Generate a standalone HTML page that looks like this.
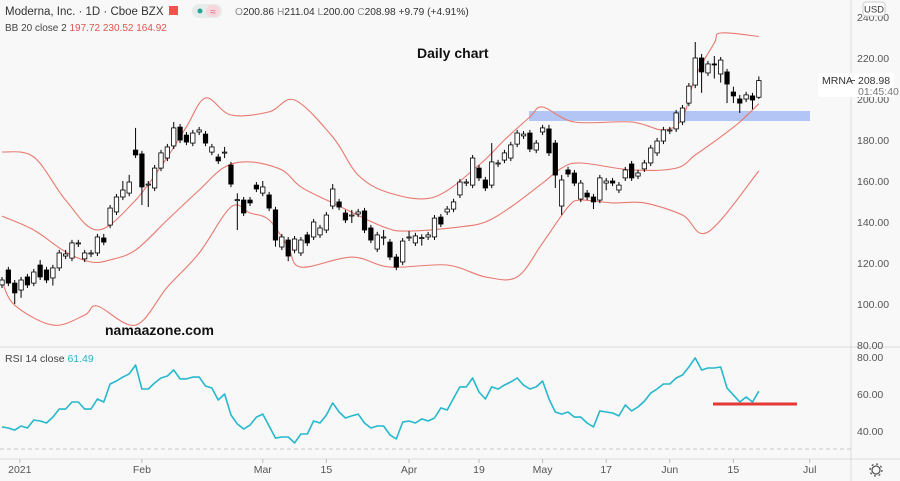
<!DOCTYPE html>
<html><head><meta charset="utf-8"><style>
html,body{margin:0;padding:0;background:#f8f8f8;}
svg{display:block;font-family:"Liberation Sans",sans-serif;}
</style></head><body>
<svg id="chart" width="900" height="481" viewBox="0 0 900 481" xmlns="http://www.w3.org/2000/svg">
<rect x="0" y="0" width="900" height="481" fill="#f8f8f8"/>
<line x1="0" y1="347" x2="900" y2="347" stroke="#dcdcdc"/>
<line x1="851" y1="0" x2="851" y2="481" stroke="#dcdcdc"/>
<line x1="0" y1="459" x2="900" y2="459" stroke="#dcdcdc"/>
<line x1="0" y1="449" x2="851" y2="449" stroke="#c8c8c8" stroke-dasharray="4,3"/>
<rect x="529" y="111" width="281" height="10" fill="#b3c5f5"/>
<g id="bands"></g>
<g id="candles"></g>
<g id="rsi"></g>
<rect x="713" y="402.5" width="84" height="3" fill="#e53935"/>
<g id="yaxis"></g>
<g id="xaxis"></g>
<text x="5" y="15" font-size="11.5" fill="#333">Moderna, Inc. · 1D · Cboe BZX</text>
<rect x="169" y="6" width="9" height="9" fill="#f0524f"/>
<rect x="192" y="4" width="30" height="14" rx="7" fill="#e6ecea"/>
<circle cx="200" cy="11" r="2.5" fill="#26a69a"/>
<rect x="206" y="5" width="14" height="12" rx="6" fill="#f7d6de"/>
<text x="213" y="15" font-size="10" fill="#e0607e" text-anchor="middle">≈</text>
<text x="235" y="15" font-size="10.2" fill="#333"><tspan fill="#888">O</tspan>200.86 <tspan fill="#888">H</tspan>211.04 <tspan fill="#888">L</tspan>200.00 <tspan fill="#888">C</tspan>208.98 +9.79 (+4.91%)</text>
<text x="5" y="31" font-size="10" fill="#444">BB 20 close 2 <tspan fill="#e0534f">197.72</tspan> <tspan fill="#e0534f">230.52</tspan> <tspan fill="#e0534f">164.92</tspan></text>
<text x="417" y="58" font-size="14" font-weight="bold" fill="#111">Daily chart</text>
<text x="105" y="335" font-size="14" font-weight="bold" fill="#111">namaazone.com</text>
<text x="5" y="362" font-size="10.5" fill="#444">RSI 14 close <tspan fill="#26b4c9">61.49</tspan></text>
<rect x="863" y="2" width="22" height="14" rx="3" fill="#fff" stroke="#ccc"/>
<text x="874" y="12.5" font-size="9.5" fill="#333" text-anchor="middle">USD</text>
<rect x="818" y="73" width="76" height="24" fill="#fff"/>
<text x="822" y="84" font-size="10.5" fill="#333">MRNA</text>
<line x1="850" y1="80.5" x2="855" y2="80.5" stroke="#555"/>
<text x="858" y="84" font-size="10.5" fill="#333">208.98</text>
<text x="858" y="95" font-size="10.5" fill="#777">01:45:40</text>
<g><circle cx="876" cy="470" r="4" fill="none" stroke="#555" stroke-width="1.3"/><circle cx="876" cy="470" r="6" fill="none" stroke="#555" stroke-width="1.3" stroke-dasharray="2,2.7"/></g>
</svg>
<script>
const opens=[109.3,116.6,110.2,106.8,113.2,110.2,119.0,116.6,112.7,117.6,123.4,122.4,129.3,122.0,124.4,124.9,132.2,138.5,144.9,152.2,154.1,175.1,173.2,158.0,156.6,166.3,171.2,177.1,186.3,182.4,178.5,183.9,182.9,174.1,171.7,173.7,167.8,150.7,150.7,150.7,158.0,154.1,153.2,145.9,127.8,131.2,126.3,124.9,133.7,132.7,133.7,136.1,147.8,149.8,144.4,142.9,143.9,145.4,137.1,126.8,132.2,130.2,122.9,120.5,132.2,129.8,132.2,132.7,132.7,142.4,144.9,146.3,153.2,159.0,158.0,166.3,160.5,158.0,168.3,170.2,171.2,178.0,182.0,183.4,175.1,183.9,185.4,178.5,147.8,165.4,163.9,151.2,154.1,152.2,150.7,159.0,160.0,155.6,161.5,168.3,162.4,165.9,168.8,173.7,179.5,184.4,185.4,188.8,198.0,206.8,220.0,212.7,217.1,212.2,213.2,203.4,200.0,200.0,201.5,200.86];
const closes=[111.7,110.2,105.4,111.7,109.3,115.6,113.2,111.7,117.6,124.9,124.4,129.8,129.8,124.9,124.9,132.7,130.2,146.8,152.2,155.6,159.5,172.7,157.1,158.5,166.3,173.7,176.6,185.9,180.0,179.0,183.4,184.9,178.5,176.6,169.8,174.1,158.5,150.9,144.4,149.3,156.1,157.1,146.8,131.2,132.7,123.4,131.7,131.2,129.8,140.0,137.1,143.4,156.1,147.3,141.0,143.4,144.9,136.1,131.2,133.7,132.7,122.9,118.0,130.7,132.7,133.2,132.4,133.7,141.9,139.0,146.3,149.8,159.5,159.5,171.2,161.5,156.6,169.3,168.8,173.7,177.6,183.4,182.9,175.6,178.5,185.9,173.7,162.9,160.5,163.4,159.0,159.0,152.2,149.8,161.5,160.0,159.0,158.0,165.4,161.5,163.9,168.8,176.1,179.5,184.9,184.9,193.2,195.6,206.3,220.0,213.2,217.1,216.8,219.0,207.3,201.5,198.0,202.0,199.5,208.98];
const highs=[113.2,118.1,111.7,113.2,114.7,117.1,121.5,118.1,119.1,126.4,126.4,131.3,131.3,126.4,126.4,134.2,134.2,148.3,153.7,160.0,163.0,185.9,174.7,160.0,167.8,175.2,178.1,188.8,187.8,183.9,184.9,186.4,184.4,178.1,173.2,176.6,169.3,154.0,152.2,152.2,159.5,160.0,154.7,147.4,134.2,132.7,133.2,132.7,135.2,141.5,138.6,144.9,158.5,151.3,145.9,145.9,146.4,146.9,138.6,135.2,136.1,131.7,124.4,132.2,135.6,134.7,134.0,135.2,143.4,143.9,147.8,151.3,161.0,161.0,172.7,167.8,162.0,178.5,170.3,175.2,179.1,184.9,184.4,184.9,180.0,187.4,187.4,180.0,162.9,166.9,165.4,160.5,155.6,153.7,163.0,161.5,161.5,159.5,166.9,169.8,165.4,170.3,177.6,181.0,186.4,186.4,194.7,197.1,207.8,227.8,222.0,218.6,221.0,220.5,214.7,206.0,202.0,203.5,203.0,211.04];
const lows=[107.8,108.7,100.0,103.0,107.8,108.7,111.7,110.2,109.0,116.1,121.9,120.9,127.8,120.5,122.9,123.4,128.7,137.0,143.4,150.7,152.6,171.2,148.3,147.3,155.1,164.8,169.7,175.6,178.5,177.5,177.0,182.4,177.0,172.6,168.3,171.2,157.0,136.1,142.9,147.8,154.6,152.6,145.3,128.0,126.3,120.9,124.8,123.4,128.3,131.2,132.2,134.6,146.3,145.8,139.5,139.5,142.4,134.6,129.7,125.3,128.7,121.4,116.5,119.0,130.7,128.3,128.5,131.2,131.2,137.5,143.4,144.8,151.7,157.5,156.5,160.0,155.1,156.5,166.8,168.7,169.7,176.5,180.5,174.1,173.6,182.4,172.2,156.6,143.4,161.9,157.5,149.7,150.7,146.3,149.2,155.5,157.5,154.1,160.0,160.0,160.9,164.4,167.3,172.2,178.0,182.9,183.9,187.3,196.5,205.3,203.0,211.2,210.0,208.0,198.0,198.0,193.2,198.5,195.0,200.0];
const upperBand=[[0,174.2],[5,171.7],[10,150.7],[15,136.1],[21,150.7],[26,171.7],[29,186.4],[32,200.5],[36,192.2],[42,193.7],[46,199.5],[52,181.5],[56,162.9],[61,154.1],[68,152.2],[75,167.8],[79,180.0],[83,191.2],[85,196.1],[90,188.8],[99,188.8],[104,184.9],[107,190.7],[109,210.7],[112,227.3],[113,232.2],[119,230.5]];
const midBand=[[0,142.9],[5,136.1],[10,125.4],[14,120.5],[17,121.5],[21,126.3],[26,141.0],[31,155.6],[35,166.8],[39,169.3],[44,165.4],[47,157.1],[52,149.3],[60,137.6],[64,135.6],[72,137.6],[76,140.0],[80,147.3],[85,159.0],[88,166.3],[91,168.8],[99,165.4],[106,166.3],[109,172.7],[113,181.5],[116,188.8],[119,197.7]];
const lowerBand=[[0,111.2],[2,99.4],[8,89.7],[13,94.6],[15,99.0],[21,89.7],[26,108.3],[31,124.9],[36,147.3],[39,144.4],[42,141.0],[45,127.8],[47,118.0],[55,122.9],[61,118.0],[70,119.0],[76,113.2],[81,113.2],[85,129.8],[89,147.3],[91,150.7],[96,149.3],[101,149.3],[107,143.4],[111,135.1],[119,164.9]];
const rsiValues=[42.3,41.7,40.6,42.8,41.7,46.0,45.5,44.4,47.6,51.9,51.9,55.7,55.7,51.9,51.9,57.3,55.7,65.4,67.0,69.1,70.8,75.6,62.7,62.7,65.9,68.6,69.7,72.9,68.1,68.1,69.1,69.1,64.3,63.2,56.8,60.0,48.7,43.9,41.2,43.3,47.6,49.2,42.8,36.3,36.9,36.9,33.7,38.5,38.5,45.5,44.4,48.7,55.2,50.3,47.1,48.2,49.2,44.4,41.7,42.8,42.8,38.0,35.8,44.9,45.5,44.4,46.6,45.5,47.1,52.5,51.4,57.8,63.8,63.8,68.6,61.1,57.3,63.8,62.7,64.8,66.5,68.6,64.8,62.7,63.8,67.0,57.3,50.3,49.2,50.3,47.6,47.6,44.4,42.3,50.9,50.3,49.8,48.2,54.1,50.9,53.0,56.2,60.5,62.7,65.4,65.4,68.6,70.2,74.5,79.4,72.9,74.0,74.0,74.5,63.2,59.5,55.7,58.4,55.7,61.49];
const priceTicks=[240,220,200,180,160,140,120,100,80];
const rsiTicks=[80,60,40];
const timeLabels=["2021","Feb","Mar","15","Apr","19","May","17","Jun","15","Jul"];
const timeLabelDays=[2.8,22,41,51,64,75,85,95,105,115,127];

const NS="http://www.w3.org/2000/svg";
function xDay(i){return 2+i*6.36;}
function yPrice(p){return 99-(p-200)*2.05;}
function yRsi(r){return 394-(r-60)*1.86;}
function mk(tag,attrs,parent){const e=document.createElementNS(NS,tag);for(const k in attrs)e.setAttribute(k,attrs[k]);parent.appendChild(e);return e;}
function smoothPath(pts){
  let d='M'+pts[0][0].toFixed(1)+','+pts[0][1].toFixed(1);
  for(let i=0;i<pts.length-1;i++){
    const p0=pts[Math.max(i-1,0)],p1=pts[i],p2=pts[i+1],p3=pts[Math.min(i+2,pts.length-1)];
    const c1x=p1[0]+(p2[0]-p0[0])/6,c1y=p1[1]+(p2[1]-p0[1])/6;
    const c2x=p2[0]-(p3[0]-p1[0])/6,c2y=p2[1]-(p3[1]-p1[1])/6;
    d+=' C'+c1x.toFixed(1)+','+c1y.toFixed(1)+' '+c2x.toFixed(1)+','+c2y.toFixed(1)+' '+p2[0].toFixed(1)+','+p2[1].toFixed(1);
  }
  return d;
}

const bands=document.getElementById('bands');
[[upperBand,'upper-band'],[midBand,'middle-band'],[lowerBand,'lower-band']].forEach(([arr,name])=>{
  const pts=arr.map(p=>[xDay(p[0]),yPrice(p[1])]);
  const path=mk('path',{d:smoothPath(pts),fill:'none',stroke:'#e8796f','stroke-width':1.1,'stroke-linejoin':'round'},bands);
  
  
});

const cg=document.getElementById('candles');
opens.forEach((o,i)=>{
  const c=closes[i],x=xDay(i);
  const g=mk('g',{},cg);
  
  
  mk('line',{x1:x,x2:x,y1:yPrice(highs[i]),y2:yPrice(lows[i]),stroke:'#000','stroke-width':1},g);
  const top=yPrice(Math.max(o,c)),bot=yPrice(Math.min(o,c));
  const up=c>=o;
  mk('rect',{x:x-2.2,y:top,width:4.4,height:Math.max(bot-top,1),fill:up?'#fff':'#000',stroke:'#000','stroke-width':0.8},g);
});

const rg=document.getElementById('rsi');
const rd=rsiValues.map((v,i)=>(i?'L':'M')+xDay(i).toFixed(1)+','+yRsi(v).toFixed(1)).join(' ');
const rl=mk('path',{d:rd,fill:'none',stroke:'#26b8cc','stroke-width':1.6,'stroke-linejoin':'round'},rg);



const ya=document.getElementById('yaxis');
priceTicks.forEach(t=>{
  const y=yPrice(t);if(y<8||y>350)return;
  const tx=mk('text',{x:857,y:y+4,'font-size':10.5,fill:'#555'},ya);
  tx.textContent=t.toFixed(2);
  
  
});
rsiTicks.forEach(t=>{
  const tx=mk('text',{x:857,y:yRsi(t)+4,'font-size':10.5,fill:'#555'},ya);
  tx.textContent=t.toFixed(2);
  
  
});
const xa=document.getElementById('xaxis');
timeLabels.forEach((l,k)=>{
  const x=xDay(timeLabelDays[k]);
  mk('line',{x1:x,x2:x,y1:459,y2:463,stroke:'#bbb'},xa);
  const tx=mk('text',{x:x,y:473,'font-size':10.5,fill:'#555','text-anchor':'middle'},xa);
  tx.textContent=l;
  
  
});
</script>
</body></html>
